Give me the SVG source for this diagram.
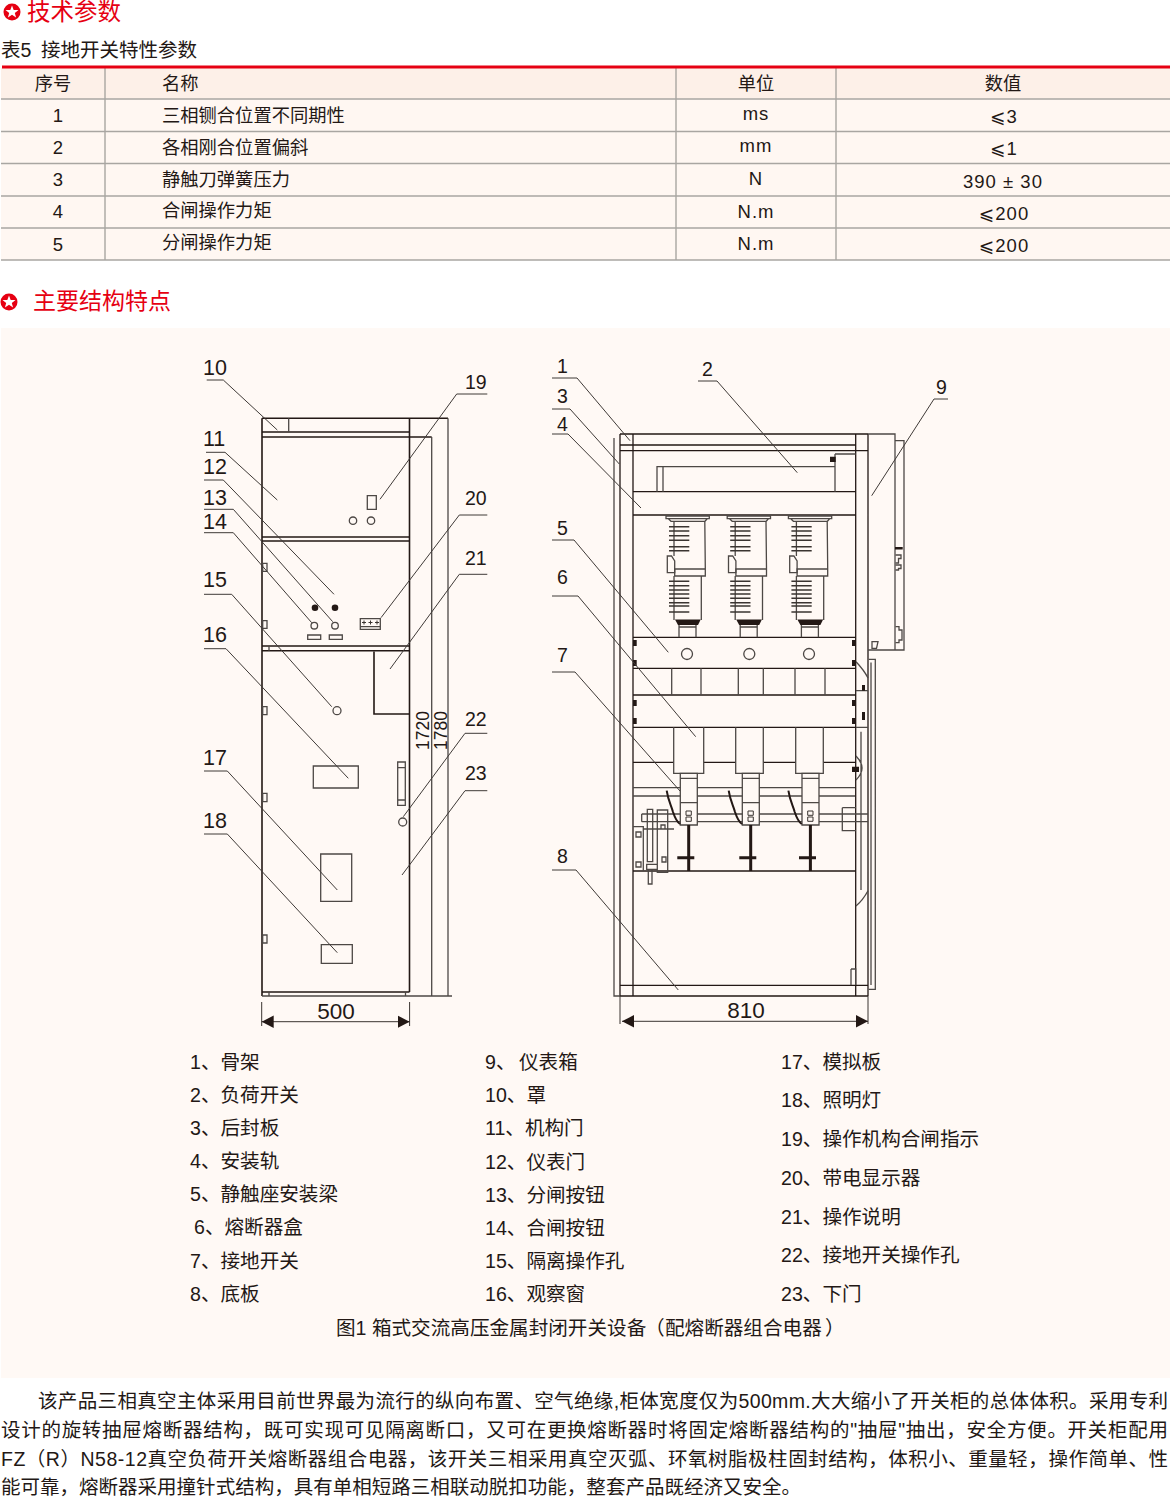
<svg xmlns="http://www.w3.org/2000/svg" xmlns:xlink="http://www.w3.org/1999/xlink" width="1170" height="1497" viewBox="0 0 1170 1497">
<style>
text{font-family:"Liberation Sans","Noto Sans CJK SC","DejaVu Sans",sans-serif;fill:#231815}
.h{font-size:23.5px;fill:#e60012}
.t{font-size:18.3px}
.th{font-size:18.3px;text-anchor:middle}
.c{font-size:18.5px;text-anchor:middle}
.u{font-size:18.5px;text-anchor:middle;letter-spacing:1px}
.l{font-size:19.6px}
.p{font-size:19.5px}
.n{font-size:21.5px}
.m{font-size:19.5px}
.d{font-size:22.5px;text-anchor:middle}
.v{font-size:17.5px}
.g{stroke:#a9a6a2;stroke-width:1.4;fill:none}
.k{stroke:#231815;stroke-width:1.6;fill:none}
.s{stroke:#3a3431;stroke-width:1;fill:none}
.b{stroke:#4d4845;stroke-width:1.3;fill:none}
.f{fill:#231815;stroke:none}
.w{stroke:#231815;stroke-width:2;fill:none}
.ld{stroke:#3f3a37;stroke-width:1;fill:none}
</style>
<defs>
<g id="star"><circle r="8.5" fill="#e60012"/><polygon fill="#fff" points="0,-6.6 1.7,-2.1 6.5,-2 2.8,0.9 4.1,5.5 0,2.8 -4.1,5.5 -2.8,0.9 -6.5,-2 -1.7,-2.1"/></g>
<marker id="ar" markerWidth="13" markerHeight="14" refX="12" refY="7" orient="auto-start-reverse" markerUnits="userSpaceOnUse"><path d="M0,0.8L12,7L0,13.2Z" fill="#231815"/></marker>
<g id="ins">
<path class="b" d="M666,516H709.3V518.7H666ZM668.3,518.7H707.3L705,521.3H671ZM674,521.3V556M674.7,572V576M704.8,521.3L705.3,569M705.3,569V576H674.7V569H705.3ZM674,576V620M701.3,576V620M679,625V637.3M696,625V637.3M679,627H696"/>
<path class="b" d="M667.3,556H671.5L674.7,561V572.7H667.3Z"/>
<path class="s" style="stroke-width:1.6" d="M669,526.7H689.3M669,531H689.3M669,535.7H689.3M669,540.3H689.3M669,546.7H689.3M669,550.7H689.3M669,581.3H689.3M669,585.7H689.3M669,590H689.3M669,594H689.3M669,598.3H689.3M669,602.7H689.3M669,606H689.3M669,612H689.3"/>
<path class="f" d="M675,619.5H700.7L698,625H678Z"/>
</g>
<g id="con">
<path class="b" style="fill:#fff9f5" d="M680.3,773.3H697.3V825H680.3Z"/>
<path class="b" d="M680.3,778.3H697.3M680.3,802.7H697.3"/>
<path class="s" d="M686,811H691.3V815.3H686ZM686,817H691.3V821.3H686Z"/>
<path class="w" d="M666.7,790.7C668,800 671,805 673,812C675,818 677,822 680,824"/>
<path class="f" d="M687.2,825H690.2V871H687.2ZM677.3,856.2H694.3V859.2H677.3Z"/>
</g>
</defs>

<g id="section-params">
<use href="#star" x="12" y="12"/>
<text class="h" x="27" y="20">技术参数</text>
<text class="t" style="font-size:19.5px" x="1" y="57">表5<tspan x="41">接地开关特性参数</tspan></text>
</g>
<g id="table">
<rect x="1" y="68" width="1169" height="31" fill="#fdf0e8"/>
<rect x="1" y="99" width="1169" height="161" fill="#fff7f2"/>
<path class="g" d="M1,99H1170M1,131.5H1170M1,163.5H1170M1,196H1170M1,228H1170M1,260H1170M105,68V260M676,68V260M836,68V260"/>
<path d="M2,67H1170" stroke="#e60012" stroke-width="3"/>
<text class="th" x="53" y="90">序号</text><text class="t" x="162" y="90">名称</text><text class="th" x="756" y="90">单位</text><text class="th" x="1003" y="90">数值</text>
<text class="c" x="58" y="122">1</text><text class="t" x="162" y="122">三相铡合位置不同期性</text><text class="u" x="756" y="120">ms</text><text class="u" x="1004" y="123">⩽3</text>
<text class="c" x="58" y="154">2</text><text class="t" x="162" y="154">各相刚合位置偏斜</text><text class="u" x="756" y="152">mm</text><text class="u" x="1004" y="155">⩽1</text>
<text class="c" x="58" y="186">3</text><text class="t" x="162" y="186">静触刀弹簧压力</text><text class="u" x="756" y="185">N</text><text class="u" x="1003" y="188">390 ± 30</text>
<text class="c" x="58" y="218">4</text><text class="t" x="162" y="217">合闸操作力矩</text><text class="u" x="756" y="218">N.m</text><text class="u" x="1004" y="220">⩽200</text>
<text class="c" x="58" y="251">5</text><text class="t" x="162" y="249">分闸操作力矩</text><text class="u" x="756" y="250">N.m</text><text class="u" x="1004" y="252">⩽200</text>
</g>
<g id="section-structure">
<use href="#star" x="9" y="302"/>
<text class="h" style="font-size:23px" x="33" y="309">主要结构特点</text>
<rect x="1" y="328" width="1169" height="1050" fill="#fff9f5"/>
</g>

<g id="front-view">
<path class="k" d="M262,418.3H448M262,418.3V996M409.5,418.3V992M262,432H409.5M262,437H431.7M262,537H409.5M262,541H409.5M262,646H409.5M262,650.7H409.5M262,992H409.5M374,651.7V714H409.5"/>
<path class="b" d="M288.7,418.3V432M431.7,437V996M448,418.3V996M262,996H452M269,646V650.7M269,992V996M405.5,992V996"/>
<g id="instrument-door"><path class="b" d="M367.3,495.7H376.3V509.3H367.3Z"/><circle class="b" cx="353" cy="520.7" r="3.7"/><circle class="b" cx="371" cy="520.7" r="3.7"/></g>
<g id="buttons"><circle class="f" cx="315" cy="607.7" r="3.3"/><circle class="f" cx="335" cy="607.7" r="3.3"/><circle class="b" cx="314.3" cy="625.7" r="3.3"/><circle class="b" cx="335" cy="625.7" r="3.3"/><path class="b" d="M307.7,635H320.7V639.3H307.7ZM329.3,635H342.3V639.3H329.3Z"/></g>
<g id="live-indicator"><path class="b" d="M360.3,618.7H380.3V629.3H360.3ZM360.3,626.7H380.3"/><path class="s" d="M362,622.5H366M364,620.5V624.5M368.5,622.5H372.5M370.5,620.5V624.5M375,622.5H379M377,620.5V624.5"/></g>
<g id="hinges"><path class="b" d="M262.7,563.3H267V571.3H262.7ZM262.7,620.7H267V628.3H262.7ZM262.7,706.7H267V714.7H262.7ZM262.7,793.3H267V801.7H262.7ZM262.7,935H267V943H262.7Z"/></g>
<g id="lower-door"><circle class="b" cx="337" cy="710.7" r="4"/><path class="b" d="M313.3,766H358.3V788H313.3ZM397.7,762H405.3V805.3H397.7ZM397.7,767.7H405.3M397.7,800H405.3M320.7,854H351.7V901.3H320.7ZM321.3,944.7H352.3V963.3H321.3Z"/><circle class="b" cx="402.7" cy="822" r="4"/></g>
<text class="v" transform="translate(428.5,750) rotate(-90)">1720</text>
<text class="v" transform="translate(446.5,750) rotate(-90)">1780</text>
</g>

<g id="side-view">
<path class="k" style="stroke-width:1.3" d="M620,434V996M633,434V996M855.7,434V996M868,434V996M620,434H868M620,445H856M620,450.7H868M633,491.7H856M633,515H856M633,637.3H856M633,668.3H856M633,695H856M633,727.3H856M620,985.3H868M620,996H868M633,762.3H673.7M703.7,762.3H735.7M763.3,762.3H795.7M823.3,762.3H856M633,871H856"/>
<path class="b" d="M614,438V996H620M657,491.7V466.7H835V491.7M663,466.7V491.7M835,454H855.7M835,454V466.7M868,434H895V650H868M895,440.7H904V650H895M671.7,668.3V695M701,668.3V695M738.3,668.3V695M763.3,668.3V695M795,668.3V695M825,668.3V695M673.7,727.3V773.3H703.7V727.3M735.7,727.3V773.3H763.3V727.3M795.7,727.3V773.3H823.3V727.3M633,787.7H855M633,796H855M641.7,814H868M641.7,821.7H868M641.7,814V821.7M842.3,807.7H856M842.3,807.7V830.7H856M856,690.7H868M856,727.3H868M868.7,659.3H875.3V989.3H868.7M871,662.5V985M861,731.7V890M856,661.7Q864,670 868,678M856,906Q863,900 868,890.7M851,969H855.7V985M851,969V985M856,756Q868,768 856,780M633,826.7H643.3V871M657.3,810H667.7V872.3H657.3ZM647.3,809.3H652.7V861.7H647.3ZM646.7,864.3H657.3V869.3H646.7ZM648.3,869.3H652V884H648.3ZM643,829H674M636,832H641V837H636ZM636,862H641V867H636ZM661,825H665V829H661ZM662,857H666V862H662Z"/>
<path class="b" d="M895.5,555H901V558.5H898.5V563H895.5M895.5,565H901V568.5H898.5V570H895.5M895.5,626.7H899V630H902V640H899V642.7H895.5M872,641.7H878L876.5,648.3H872Z"/>
<path class="f" d="M830,456.7H835.7V462H830ZM895,547H902.7V549.5H895ZM633,640H636.7V646H633ZM633,660H636.7V666H633ZM633,700H636.7V706H633ZM633,718H636.7V724H633ZM852,640H856V646H852ZM852,660H856V666H852ZM852,700H856V706H852ZM852,718H856V724H852ZM852,766.7H859V772H852ZM862,685H865V690.7H862ZM862,712H865V720H862Z"/>
<g id="insulators"><use href="#ins"/><use href="#ins" x="61.2"/><use href="#ins" x="122.4"/></g>
<g id="bar-holes"><circle class="b" cx="687" cy="654" r="5.5"/><circle class="b" cx="749.3" cy="654" r="5.5"/><circle class="b" cx="809" cy="654" r="5.5"/></g>
<g id="contacts"><use href="#con"/><use href="#con" x="62"/><use href="#con" x="121.7"/></g>
</g>

<g id="connectors">
<path class="ld" d="M206.7,380H223.3L277.3,430M206,452.3H225L277.3,500M204,480H223.3L334,594.3M204,509.3H233.3L332.7,621.7M204,532.7H233.3L311.7,622.7M204,594.3H231.7L331.7,706.7M204,648.7H226L348.3,778.3M204,771H227.3L337.3,890M204,834H227.3L337.3,952.7M487.3,394H456.7L380,499.3M487.3,515H459.3L381,617.7M487.3,574.3H459.3L390,669M487.3,733.3H465L403.3,816.7M487.3,790.7H465L402,875"/>
<path class="ld" d="M552,378H577L630,440.7M552,409H570L619.3,464M552,434H568L641,508M698,381H717L797.3,472.7M948,399H934L871.7,495.7M552,540H574L668.3,652.3M552,596H578L695.7,736.7M552,672H575L680,791M552,870H576L678.3,990"/>
<path class="s" d="M261.7,1002V1026M409.6,1002V1026M620,996V1024M868,996V1024"/>
<path class="s" marker-start="url(#ar)" marker-end="url(#ar)" d="M261.7,1021.7H409.6"/>
<path class="s" marker-start="url(#ar)" marker-end="url(#ar)" d="M622,1021.3H868"/>
</g>

<g id="callouts">
<text class="n" x="203" y="375">10</text><text class="n" x="203" y="446">11</text><text class="n" x="203" y="474">12</text><text class="n" x="203" y="505">13</text><text class="n" x="203" y="529">14</text><text class="n" x="203" y="587">15</text><text class="n" x="203" y="642">16</text><text class="n" x="203" y="765">17</text><text class="n" x="203" y="828">18</text>
<text class="m" x="465" y="389">19</text><text class="m" x="465" y="505">20</text><text class="m" x="465" y="565">21</text><text class="m" x="465" y="726">22</text><text class="m" x="465" y="780">23</text>
<text class="m" x="557" y="373">1</text><text class="m" x="557" y="403">3</text><text class="m" x="557" y="431">4</text><text class="m" x="702" y="376">2</text><text class="m" x="936" y="394">9</text><text class="m" x="557" y="535">5</text><text class="m" x="557" y="584">6</text><text class="m" x="557" y="662">7</text><text class="m" x="557" y="863">8</text>
<text class="d" x="336" y="1019">500</text><text class="d" x="746" y="1018">810</text>
</g>

<g id="legend">
<text class="l" x="190" y="1069">1、骨架</text><text class="l" x="190" y="1102">2、负荷开关</text><text class="l" x="190" y="1135">3、后封板</text><text class="l" x="190" y="1168">4、安装轨</text><text class="l" x="190" y="1201">5、静触座安装梁</text><text class="l" x="194" y="1234">6、熔断器盒</text><text class="l" x="190" y="1268">7、接地开关</text><text class="l" x="190" y="1301">8、底板</text>
<text class="l" x="485" y="1069">9、<tspan x="519">仪表箱</tspan></text><text class="l" x="485" y="1102">10、罩</text><text class="l" x="485" y="1135">11、机构门</text><text class="l" x="485" y="1169">12、仪表门</text><text class="l" x="485" y="1202">13、分闸按钮</text><text class="l" x="485" y="1235">14、合闸按钮</text><text class="l" x="485" y="1268">15、隔离操作孔</text><text class="l" x="485" y="1301">16、观察窗</text>
<text class="l" x="781" y="1069">17、模拟板</text><text class="l" x="781" y="1107">18、照明灯</text><text class="l" x="781" y="1146">19、操作机构合闸指示</text><text class="l" x="781" y="1185">20、带电显示器</text><text class="l" x="781" y="1224">21、操作说明</text><text class="l" x="781" y="1262">22、接地开关操作孔</text><text class="l" x="781" y="1301">23、下门</text>
<text class="l" x="336" y="1335">图1 箱式交流高压金属封闭开关设备<tspan x="645">（</tspan><tspan x="665">配熔断器组合电器</tspan><tspan x="825">）</tspan></text>
</g>

<g id="description">
<text class="p" x="38" y="1408" textLength="1130">该产品三相真空主体采用目前世界最为流行的纵向布置、空气绝缘,柜体宽度仅为500mm.大大缩小了开关柜的总体体积。采用专利</text>
<text class="p" x="1" y="1437" textLength="1167">设计的旋转抽屉熔断器结构，既可实现可见隔离断口，又可在更换熔断器时将固定熔断器结构的"抽屉"抽出，安全方便。开关柜配用</text>
<text class="p" x="1" y="1466" textLength="1167">FZ（R）N58-12真空负荷开关熔断器组合电器，该开关三相采用真空灭弧、环氧树脂极柱固封结构，体积小、重量轻，操作简单、性</text>
<text class="p" x="1" y="1494" textLength="800">能可靠，熔断器采用撞针式结构，具有单相短路三相联动脱扣功能，整套产品既经济又安全。</text>
</g>
</svg>
